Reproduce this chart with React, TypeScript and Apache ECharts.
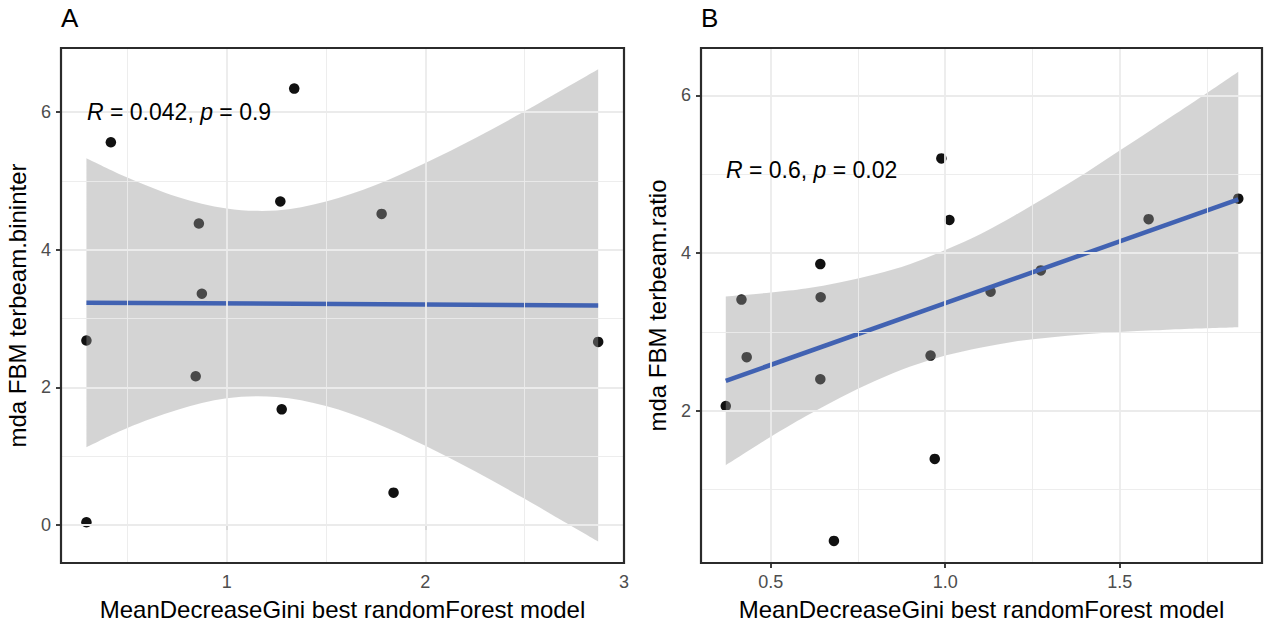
import React, { useEffect, useRef } from 'react';
import * as echarts from 'echarts';

// ---------- Panel A data ----------
const aX = [0.417, 1.34, 1.27, 0.86, 1.78, 0.875, 0.294, 2.87, 0.844, 1.277, 0.294, 1.84];
const aY = [5.56, 6.34, 4.7, 4.38, 4.52, 3.36, 2.68, 2.66, 2.16, 1.68, 0.04, 0.47];
const aFitX = [0.294, 2.87];
const aFitY = [3.23, 3.19];
const aBandX = [0.294, 0.5, 0.75, 1.0, 1.25, 1.5, 1.75, 2.0, 2.25, 2.5, 2.75, 2.87];
const aBandLo = [1.13, 1.41, 1.67, 1.84, 1.86, 1.73, 1.48, 1.15, 0.78, 0.38, -0.04, -0.24];
const aBandHi = [5.33, 5.05, 4.77, 4.6, 4.57, 4.7, 4.94, 5.26, 5.62, 6.01, 6.42, 6.62];
const aXTicks = [1, 2, 3];
const aYTicks = [0, 2, 4, 6];
const aXMinor = [0.5, 1.5, 2.5];
const aYMinor = [1, 3, 5];

// ---------- Panel B data ----------
const bX = [0.371, 0.416, 0.431, 0.642, 0.643, 0.642, 0.681, 0.958, 0.97, 0.989, 1.012, 1.13, 1.274, 1.583, 1.84];
const bY = [2.06, 3.41, 2.68, 3.86, 3.44, 2.4, 0.35, 2.7, 1.39, 5.2, 4.42, 3.51, 3.78, 4.43, 4.69];
const bFitX = [0.371, 1.84];
const bFitY = [2.38, 4.68];
const bBandX = [0.371, 0.5, 0.6, 0.7, 0.8, 0.9, 1.0, 1.1, 1.2, 1.3, 1.4, 1.5, 1.6, 1.7, 1.84];
const bBandLo = [1.31, 1.67, 1.93, 2.17, 2.38, 2.56, 2.7, 2.8, 2.88, 2.93, 2.97, 3.0, 3.02, 3.04, 3.06];
const bBandHi = [3.45, 3.5, 3.55, 3.63, 3.73, 3.86, 4.04, 4.24, 4.48, 4.74, 5.01, 5.3, 5.59, 5.88, 6.3];
const bXTicks = [0.5, 1.0, 1.5];
const bYTicks = [2, 4, 6];
const bXMinor = [0.75, 1.25, 1.75];
const bYMinor = [1, 3, 5];

const xTitle = 'MeanDecreaseGini best randomForest model';
const aYTitle = 'mda FBM terbeam.bininter';
const bYTitle = 'mda FBM terbeam.ratio';

const FONT = '"Liberation Sans", Arial, Helvetica, sans-serif';
const GRID_COL = '#ebebeb';
const BORDER_COL = '#2b2b2b';
const BAND_COL = 'rgba(153,153,153,0.42)';
const LINE_COL = '#4162b2';
const PT_COL = '#111111';

// Smooth closed band shape (Catmull-Rom through the upper edge, back along the lower edge)
echarts.graphic.registerShape(
  'ciBand',
  (echarts.graphic as any).extendShape({
    shape: { up: [] as number[][], lo: [] as number[][] },
    buildPath(ctx: any, shape: any) {
      const trace = (pts: number[][], first: boolean) => {
        if (!pts || !pts.length) return;
        if (first) ctx.moveTo(pts[0][0], pts[0][1]);
        else ctx.lineTo(pts[0][0], pts[0][1]);
        for (let i = 0; i < pts.length - 1; i++) {
          const p0 = pts[i - 1] || pts[i];
          const p1 = pts[i];
          const p2 = pts[i + 1];
          const p3 = pts[i + 2] || pts[i + 1];
          ctx.bezierCurveTo(
            p1[0] + (p2[0] - p0[0]) / 6,
            p1[1] + (p2[1] - p0[1]) / 6,
            p2[0] - (p3[0] - p1[0]) / 6,
            p2[1] - (p3[1] - p1[1]) / 6,
            p2[0],
            p2[1],
          );
        }
      };
      trace(shape.up, true);
      trace((shape.lo || []).slice().reverse(), false);
      ctx.closePath();
    },
  }),
);

function makeAxis(
  gridIndex: number,
  min: number,
  max: number,
  ticks: number[],
  name: string,
  isX: boolean,
  fmt: (v: number) => string,
) {
  return {
    type: 'value',
    gridIndex,
    min,
    max,
    name,
    nameLocation: 'middle',
    nameGap: isX ? 34 : 32,
    nameTextStyle: { fontSize: 24, color: '#000', fontFamily: FONT },
    axisLine: { show: false },
    axisTick: {
      show: true,
      inside: false,
      length: 5,
      customValues: ticks,
      lineStyle: { color: BORDER_COL, width: 1.8 },
    },
    axisLabel: {
      show: true,
      customValues: ticks,
      margin: 10,
      fontSize: 18,
      color: '#4d4d4d',
      fontFamily: FONT,
      formatter: (v: number) => fmt(v),
    },
    splitLine: { show: false },
    minorTick: { show: false },
    minorSplitLine: { show: false },
  };
}

function gridLines(
  xAxisIndex: number,
  yAxisIndex: number,
  xMaj: number[],
  yMaj: number[],
  xMin: number[],
  yMin: number[],
) {
  const data: any[] = [];
  xMin.forEach((v) => data.push({ xAxis: v, lineStyle: { width: 0.9, color: GRID_COL } }));
  yMin.forEach((v) => data.push({ yAxis: v, lineStyle: { width: 0.9, color: GRID_COL } }));
  xMaj.forEach((v) => data.push({ xAxis: v, lineStyle: { width: 1.8, color: GRID_COL } }));
  yMaj.forEach((v) => data.push({ yAxis: v, lineStyle: { width: 1.8, color: GRID_COL } }));
  return {
    type: 'line',
    xAxisIndex,
    yAxisIndex,
    data: [],
    z: 1,
    silent: true,
    symbol: 'none',
    markLine: {
      silent: true,
      symbol: ['none', 'none'],
      label: { show: false },
      emphasis: { disabled: true },
      lineStyle: { type: 'solid' },
      animation: false,
      data,
    },
  };
}

function panelSeries(
  idx: number,
  xs: number[],
  ys: number[],
  bandX: number[],
  lo: number[],
  hi: number[],
  fitX: number[],
  fitY: number[],
) {
  return [
    {
      type: 'scatter',
      xAxisIndex: idx,
      yAxisIndex: idx,
      z: 2,
      symbolSize: 10.5,
      itemStyle: { color: PT_COL, opacity: 1 },
      data: xs.map((x, i) => [x, ys[i]]),
    },
    {
      type: 'custom',
      xAxisIndex: idx,
      yAxisIndex: idx,
      z: 3,
      silent: true,
      encode: { x: 0, y: [1, 2] },
      data: bandX.map((x, i) => [x, lo[i], hi[i]]),
      renderItem: (params: any, api: any) => {
        if (params.dataIndex !== 0) return null;
        const up = bandX.map((x, i) => api.coord([x, hi[i]]));
        const dn = bandX.map((x, i) => api.coord([x, lo[i]]));
        return {
          type: 'ciBand',
          shape: { up, lo: dn },
          style: { fill: BAND_COL, stroke: 'none' },
        };
      },
    },
    {
      type: 'line',
      xAxisIndex: idx,
      yAxisIndex: idx,
      z: 4,
      symbol: 'none',
      lineStyle: { color: LINE_COL, width: 4.5 },
      data: fitX.map((x, i) => [x, fitY[i]]),
    },
  ];
}

export default function App() {
  const ref = useRef<HTMLDivElement>(null);
  useEffect(() => {
    document.body.style.margin = '0';
    if (!ref.current) return;
    const chart = echarts.init(ref.current, undefined, { renderer: 'svg' });
    const int = (v: number) => String(Math.round(v));
    const one = (v: number) => v.toFixed(1);
    const option: any = {
      animation: false,
      backgroundColor: '#ffffff',
      textStyle: { fontFamily: FONT },
      grid: [
        { left: 61, top: 48, width: 563, height: 515, show: true, z: 20, borderColor: BORDER_COL, borderWidth: 2.2, backgroundColor: 'transparent' },
        { left: 701, top: 48, width: 561, height: 515, show: true, z: 20, borderColor: BORDER_COL, borderWidth: 2.2, backgroundColor: 'transparent' },
      ],
      xAxis: [
        makeAxis(0, 0.166, 3, aXTicks, xTitle, true, int),
        makeAxis(1, 0.3, 1.908, bXTicks, xTitle, true, one),
      ],
      yAxis: [
        makeAxis(0, -0.552, 6.93, aYTicks, aYTitle, false, int),
        makeAxis(1, 0.07, 6.6, bYTicks, bYTitle, false, int),
      ],
      series: [
        gridLines(0, 0, aXTicks.filter((v) => v < 3), aYTicks, aXMinor, aYMinor),
        gridLines(1, 1, bXTicks, bYTicks, bXMinor, bYMinor),
        ...panelSeries(0, aX, aY, aBandX, aBandLo, aBandHi, aFitX, aFitY),
        ...panelSeries(1, bX, bY, bBandX, bBandLo, bBandHi, bFitX, bFitY),
      ],
      graphic: [
        { type: 'text', x: 61, y: 31, z: 100, style: { text: 'A', fontSize: 26, fontFamily: FONT, fill: '#000', verticalAlign: 'bottom', align: 'left' } },
        { type: 'text', x: 701, y: 31, z: 100, style: { text: 'B', fontSize: 26, fontFamily: FONT, fill: '#000', verticalAlign: 'bottom', align: 'left' } },
        {
          type: 'text', x: 87, y: 112, z: 100,
          style: {
            text: '{i|R} = 0.042, {i|p} = 0.9',
            fontSize: 23, fontFamily: FONT, fill: '#000', verticalAlign: 'middle', align: 'left',
            rich: { i: { fontStyle: 'italic', fontSize: 23, fontFamily: FONT, fill: '#000' } },
          },
        },
        {
          type: 'text', x: 726, y: 170, z: 100,
          style: {
            text: '{i|R} = 0.6, {i|p} = 0.02',
            fontSize: 23, fontFamily: FONT, fill: '#000', verticalAlign: 'middle', align: 'left',
            rich: { i: { fontStyle: 'italic', fontSize: 23, fontFamily: FONT, fill: '#000' } },
          },
        },
      ],
    };
    chart.setOption(option);
    return () => chart.dispose();
  }, []);
  return <div ref={ref} style={{ width: 1264, height: 626 }} />;
}
